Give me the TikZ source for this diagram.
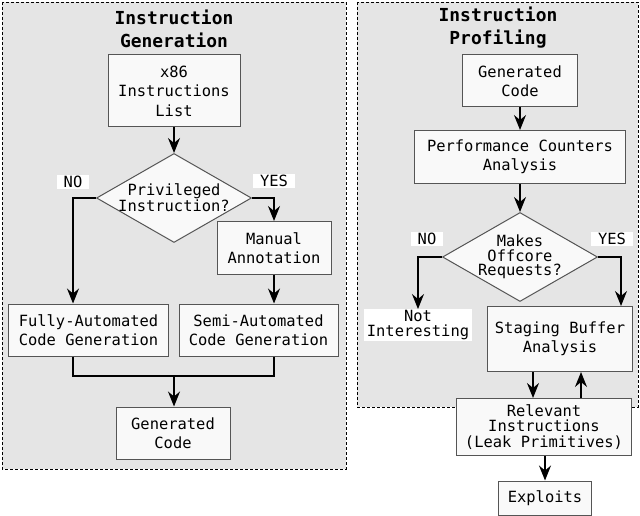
\documentclass[tikz,border=0pt]{standalone}
\usepackage{fontspec}
\setmainfont{DejaVu Sans Mono}
\usetikzlibrary{shapes.geometric}
\usetikzlibrary{arrows.meta,calc}
\definecolor{panelgray}{HTML}{E5E5E5}
\definecolor{boxfill}{HTML}{F9F9F9}
\definecolor{boxline}{HTML}{555555}
\tikzset{panel/.style={draw=black, fill=panelgray, dash pattern=on 3bp off 2bp, line width=0.9bp},
  box/.style={draw=boxline, fill=boxfill, line width=1bp, align=center, inner sep=0pt, font=\fontsize{15.5}{19.5}\selectfont},
  decision/.style={diamond, draw=boxline, fill=boxfill, line width=1bp, inner sep=0pt, minimum width=155bp, minimum height=89bp},
  dtext/.style={align=center, inner sep=0pt, font=\fontsize{15.5}{16}\selectfont},
  tag/.style={fill=white, inner xsep=7bp, inner ysep=1bp, align=center, font=\fontsize{15.5}{15}\selectfont},
  title/.style={align=center, font=\bfseries\fontsize{18}{23}\selectfont},
  arrow/.style={-{Stealth[length=15bp, width=12bp, inset=5bp]}, line width=1.3bp},
  link/.style={line width=1.3bp}}

\begin{document}
\begin{tikzpicture}[x=1bp, y=-1bp]
\useasboundingbox (0,0) rectangle (640,516);
% panels
\draw[panel] (2,2) rectangle (346,469);
\draw[panel] (357,2) rectangle (638,407);
% instruction generation
\node[title] (gentitle) at (174,28.5) {Instruction\\Generation};
\node[box, minimum width=132bp, minimum height=72bp] (x86) at (174,91) {x86\\Instructions\\List};
\node[decision, label={[dtext]center:Privileged\\Instruction?}] (priv) at (174,198) {};
\node[tag] (no) at (73,182) {NO};
\node[tag] (yes) at (274,181) {YES};
\node[box, minimum width=114bp, minimum height=53bp] (manual) at (274,248) {Manual\\Annotation};
\node[box, minimum width=159bp, minimum height=52bp] (fully) at (88.5,330) {Fully-Automated\\Code Generation};
\node[box, minimum width=159bp, minimum height=52bp] (semi) at (258.5,330) {Semi-Automated\\Code Generation};
\coordinate (merge) at (174,376);
\node[box, minimum width=114bp, minimum height=52bp] (gencode) at (173,433) {Generated\\Code};
\draw[arrow] (x86) -- (priv);
\draw[arrow] (priv.east) -| (manual.north);
\draw[arrow] (priv.west) -| (no |- fully.north);
\draw[arrow] (manual.south) -- (manual.south |- semi.north);
\draw[link] (no |- fully.south) |- (merge) -| (manual |- semi.south);
\draw[arrow] (merge) -- (gencode.north -| merge);
% instruction profiling
\node[title] (proftitle) at (498,27.5) {Instruction\\Profiling};
\node[box, minimum width=115bp, minimum height=52bp] (generated) at (520,81) {Generated\\Code};
\node[box, minimum width=211bp, minimum height=53bp] (perf) at (520,157) {Performance Counters\\Analysis};
\node[decision, label={[dtext, font=\fontsize{15.5}{14.5}\selectfont]center:Makes\\Offcore\\Requests?}] (offcore) at (520,257) {};
\node[tag] (no2) at (427,239) {NO};
\node[tag] (yes2) at (612,239) {YES};
\node[tag, inner xsep=3bp] (notint) at (418,325) {Not\\Interesting};
\node[box, minimum width=145bp, minimum height=65bp] (staging) at (560,339) {Staging Buffer\\Analysis};
\node[box, minimum width=175bp, minimum height=57bp, font=\fontsize{15.5}{15.5}\selectfont] (relevant) at (544,427) {Relevant\\Instructions\\(Leak Primitives)};
\node[box, minimum width=93bp, minimum height=34bp] (exploits) at (545,498) {Exploits};
\coordinate (feed) at ($(staging.south)+(-27,0)$);
\coordinate (back) at ($(staging.south)+(21,0)$);
\coordinate (branch) at ($(staging.north east)+(-12,0)$);
\draw[arrow] (generated) -- (perf);
\draw[arrow] (perf) -- (offcore);
\draw[arrow] (offcore.west) -| (notint.north);
\draw[arrow] (offcore.east) -| (branch);
\draw[arrow] (feed) -- (feed |- relevant.north);
\draw[arrow] (back |- relevant.north) -- (back);
\draw[arrow] (relevant.south -| exploits) -- (exploits.north);
\end{tikzpicture}
\end{document}
